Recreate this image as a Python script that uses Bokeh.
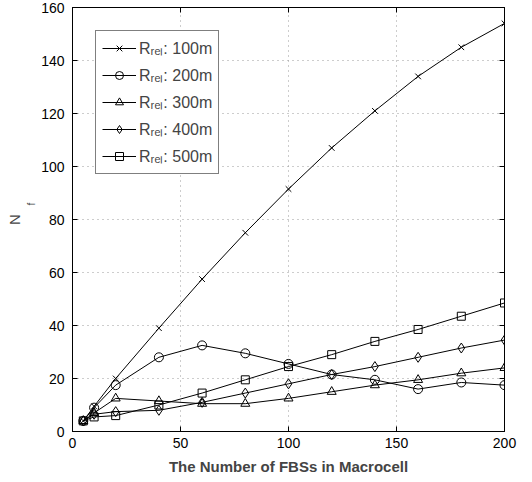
from bokeh.plotting import figure
from bokeh.models import Legend, LegendItem, LinearAxis, Range1d, FixedTicker
from bokeh.embed import file_html
from bokeh.resources import INLINE

# ---- data ----
fbs = [5, 10, 20, 40, 60, 80, 100, 120, 140, 160, 180, 200]
r100 = [4, 9.5, 20, 39, 57.5, 75, 91.5, 107, 121, 134, 145, 154]
r200 = [4, 9, 17.5, 28, 32.5, 29.5, 25.5, 21.5, 19.5, 16, 18.5, 17.5]
r300 = [4, 7, 12.5, 11.5, 10.5, 10.5, 12.5, 15, 17.5, 19.5, 22, 24]
r400 = [4, 6.5, 7.5, 8, 11, 14.5, 18, 21.5, 24.5, 28, 31.5, 34.5]
r500 = [4, 5.5, 6, 10, 14.5, 19.5, 24.5, 29, 34, 38.5, 43.5, 48.5]
labels = ["R\u1d63\u2091\u2097: 100m", "R\u1d63\u2091\u2097: 200m", "R\u1d63\u2091\u2097: 300m",
          "R\u1d63\u2091\u2097: 400m", "R\u1d63\u2091\u2097: 500m"]
xticks = [0, 50, 100, 150, 200]
yticks = [0, 20, 40, 60, 80, 100, 120, 140, 160]

FONT = "Liberation Sans"
W, H = 524, 480

p = figure(width=W, height=H, output_backend="svg", toolbar_location=None,
           x_range=Range1d(0, 200), y_range=Range1d(0, 160),
           min_border_left=72, min_border_right=20, min_border_top=7, min_border_bottom=49,
           background_fill_color="white", border_fill_color="white")
p.outline_line_color = "black"
p.outline_line_width = 1

for ax in (p.xaxis[0], p.yaxis[0]):
    ax.major_tick_in = 5
    ax.major_tick_out = 0
    ax.minor_tick_line_color = None
    ax.axis_line_color = "black"
    ax.major_tick_line_color = "black"
    ax.major_label_text_font = FONT
    ax.major_label_text_font_size = "14px"
    ax.major_label_text_color = "black"
p.xaxis[0].ticker = FixedTicker(ticks=xticks)
p.yaxis[0].ticker = FixedTicker(ticks=yticks)
p.xaxis[0].axis_label = "The Number of FBSs in Macrocell"
p.xaxis[0].axis_label_text_font = FONT
p.xaxis[0].axis_label_text_font_style = "bold"
p.xaxis[0].axis_label_text_font_size = "15px"
p.xaxis[0].axis_label_standoff = 7
p.xaxis[0].major_label_standoff = 6
p.yaxis[0].major_label_standoff = 8

# y label "N_f": subscript axis (closer to the frame), shifted up with no-break spaces, then "N"
sub_ax = LinearAxis(ticker=FixedTicker(ticks=[]), axis_line_color=None,
                    major_tick_in=0, major_tick_out=0, minor_tick_line_color=None,
                    axis_label="\u00a0" * 11 + "f", axis_label_text_font=FONT,
                    axis_label_text_font_size="10px",
                    axis_label_text_font_style="normal", axis_label_standoff=2)
n_ax = LinearAxis(ticker=FixedTicker(ticks=[]), axis_line_color=None,
                  major_tick_in=0, major_tick_out=0, minor_tick_line_color=None,
                  axis_label="N", axis_label_text_font=FONT, axis_label_text_font_size="15px",
                  axis_label_text_font_style="normal", axis_label_standoff=0)
p.add_layout(sub_ax, "left")
p.add_layout(n_ax, "left")

# box axes (top/right) with inner ticks, no labels
top = LinearAxis(ticker=FixedTicker(ticks=xticks), major_label_overrides={t: "" for t in xticks},
                 major_tick_in=5, major_tick_out=0, minor_tick_line_color=None,
                 major_label_standoff=0)
right = LinearAxis(ticker=FixedTicker(ticks=yticks), major_label_overrides={t: "" for t in yticks},
                   major_tick_in=5, major_tick_out=0, minor_tick_line_color=None,
                   major_label_standoff=0)
p.add_layout(top, "above")
p.add_layout(right, "right")

p.xgrid.ticker = FixedTicker(ticks=xticks)
p.ygrid.ticker = FixedTicker(ticks=yticks)
for g in (p.xgrid[0], p.ygrid[0]):
    g.grid_line_color = "#9a9a9a"
    g.grid_line_dash = "1 4"
    g.grid_line_width = 1

series = [r100, r200, r300, r400, r500]
markers = ["x", "circle", "triangle", "diamond", "square"]
sizes = [8, 9, 9, 10, 8]
items = []
for ys, m, s, lab in zip(series, markers, sizes, labels):
    ln = p.line(fbs, ys, line_color="black", line_width=1)
    sc = p.scatter(fbs, ys, marker=m, size=s, line_color="black", fill_color=None, line_width=1)
    items.append(LegendItem(label=lab, renderers=[ln, sc]))

legend = Legend(items=items, location="top_left", margin=23, padding=6,
                spacing=5, glyph_width=34, glyph_height=20, label_height=20,
                label_text_font=FONT, label_text_font_size="16px",
                label_standoff=3, border_line_color="black", border_line_width=1,
                background_fill_color="white", background_fill_alpha=1)
p.add_layout(legend)

open("out.html", "w").write(file_html(p, INLINE))
